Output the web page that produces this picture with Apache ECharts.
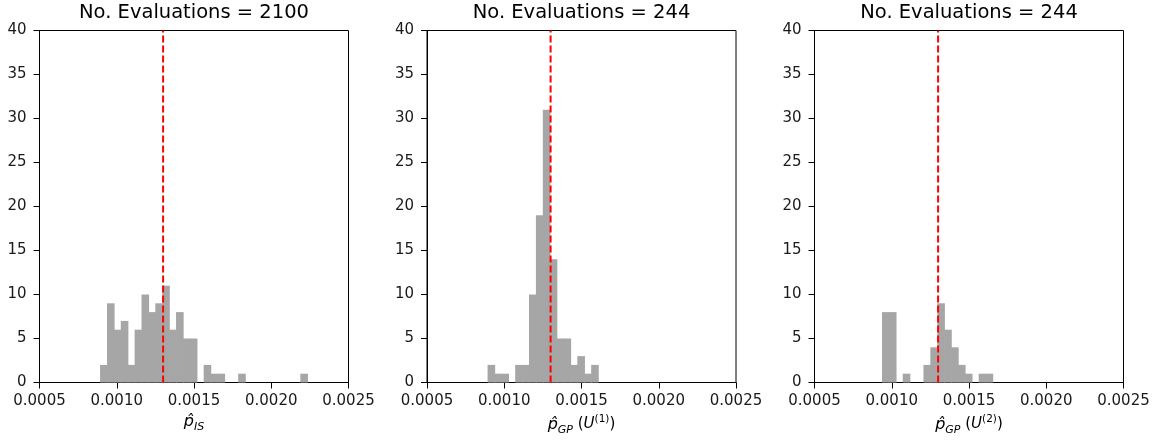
<!DOCTYPE html>
<html>
<head>
<meta charset="utf-8">
<script src="https://cdn.jsdelivr.net/npm/echarts@6/dist/echarts.min.js"></script>
<style>
html,body{margin:0;padding:0;background:#fff;}
#chart{width:1162px;height:442px;}
</style>
</head>
<body>
<div id="chart"></div>
<script>
// ---- data ----
const titles = ['No. Evaluations = 2100', 'No. Evaluations = 244', 'No. Evaluations = 244'];
const xTicks = [0.0005, 0.0010, 0.0015, 0.0020, 0.0025];
const yTicks = [0, 5, 10, 15, 20, 25, 30, 35, 40];
const refValue = 0.0013;
const binWidth = 0.0000447;
const isBinStart = 0.000892;
const isCounts = [2, 9, 6, 7, 2, 6, 10, 8, 9, 11, 6, 8, 5, 5, 0, 2, 1, 1, 0, 0, 1, 0, 0, 0, 0, 0, 0, 0, 0, 1];
const gp1BinStart = 0.000892;
const gp1Counts = [2, 1, 1, 0, 2, 2, 10, 19, 31, 14, 5, 5, 2, 3, 1, 2];
const gp2BinStart = 0.000937;
const gp2Counts = [8, 8, 0, 1, 0, 0, 2, 4, 9, 6, 4, 2, 1, 0, 1, 1];

// ---- build ----
const panels = [
  {start: isBinStart, counts: isCounts,
   name: '{p|p\u0302}{sub|IS}'},
  {start: gp1BinStart, counts: gp1Counts,
   name: '{p|p\u0302}{sub|GP}{t| (}{u|U}{sup|(1)}{t|)}'},
  {start: gp2BinStart, counts: gp2Counts,
   name: '{p|p\u0302}{sub|GP}{t| (}{u|U}{sup|(2)}{t|)}'}
];

const FONT = 'DejaVu Sans';
const gridLefts = [39.5, 427, 814.5];
const gridW = 309;
const gridTop = 30.5;
const gridH = 352;

const richName = {
  p: {fontFamily: FONT, fontStyle: 'italic', fontSize: 16, lineHeight: 22, color: '#000', verticalAlign: 'middle'},
  sub: {fontFamily: FONT, fontStyle: 'italic', fontSize: 11, lineHeight: 12, color: '#000', verticalAlign: 'bottom'},
  t: {fontFamily: FONT, fontSize: 15, lineHeight: 22, color: '#000', verticalAlign: 'middle'},
  u: {fontFamily: FONT, fontStyle: 'italic', fontSize: 15, lineHeight: 22, color: '#000', verticalAlign: 'middle'},
  sup: {fontFamily: FONT, fontSize: 10.5, lineHeight: 12, color: '#000', verticalAlign: 'top'}
};

const grid = [], xAxis = [], yAxis = [], series = [], title = [];
panels.forEach(function (pn, i) {
  grid.push({left: gridLefts[i], top: gridTop, width: gridW, height: gridH,
    show: true, borderColor: '#000', borderWidth: 1, backgroundColor: 'transparent', containLabel: false});
  title.push({text: titles[i], left: gridLefts[i] + gridW / 2, top: 3, textAlign: 'center', padding: 0,
    textStyle: {fontFamily: FONT, fontSize: 19.5, fontWeight: 'normal', color: '#000'}});
  xAxis.push({type: 'value', gridIndex: i, min: xTicks[0], max: xTicks[xTicks.length - 1],
    interval: xTicks[1] - xTicks[0],
    splitLine: {show: false},
    axisLine: {show: true, lineStyle: {color: '#000', width: 1}},
    axisTick: {show: true, length: 6, lineStyle: {color: '#000', width: 1}},
    axisLabel: {fontFamily: FONT, fontSize: 15, color: '#1a1a1a', margin: 11,
      formatter: function (v) { return v.toFixed(4); }},
    name: pn.name, nameLocation: 'middle', nameGap: 28,
    nameTextStyle: {rich: richName}
  });
  yAxis.push({type: 'value', gridIndex: i, min: yTicks[0], max: yTicks[yTicks.length - 1],
    interval: yTicks[1] - yTicks[0],
    splitLine: {show: false},
    axisLine: {show: true, lineStyle: {color: '#000', width: 1}},
    axisTick: {show: true, length: 6, lineStyle: {color: '#000', width: 1}},
    axisLabel: {fontFamily: FONT, fontSize: 15, color: '#1a1a1a', margin: 13}
  });
  const data = pn.counts.map(function (c, k) {
    return [pn.start + k * binWidth, pn.start + (k + 1) * binWidth, c];
  });
  series.push({type: 'custom', xAxisIndex: i, yAxisIndex: i, z: 2,
    encode: {x: [0, 1], y: 2},
    data: data,
    renderItem: function (params, api) {
      const h = api.value(2);
      if (!h) return null;
      const p0 = api.coord([api.value(0), h]);
      const p1 = api.coord([api.value(1), 0]);
      return {type: 'rect',
        shape: {x: p0[0], y: p0[1], width: p1[0] - p0[0] + 0.7, height: p1[1] - p0[1]},
        style: {fill: '#a6a6a6'}};
    }
  });
  series.push({type: 'line', xAxisIndex: i, yAxisIndex: i, z: 5,
    data: [[refValue, yTicks[0]], [refValue, yTicks[yTicks.length - 1]]],
    showSymbol: false, symbol: 'none', silent: true, animation: false,
    lineStyle: {color: '#ff0000', width: 2, type: [7, 3]}
  });
});

const chart = echarts.init(document.getElementById('chart'), null, {renderer: 'canvas'});
chart.setOption({animation: false, backgroundColor: '#fff', title: title, grid: grid,
  xAxis: xAxis, yAxis: yAxis, series: series});
</script>
</body>
</html>
